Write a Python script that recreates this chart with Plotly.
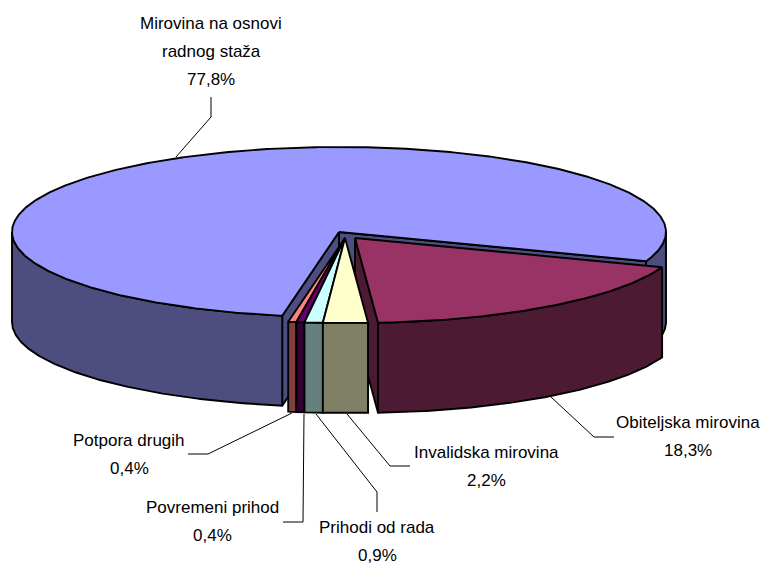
import numpy as np
import plotly.graph_objects as go

# Data
categories = ["Mirovina na osnovi radnog staža", "Obiteljska mirovina", "Invalidska mirovina",
              "Prihodi od rada", "Povremeni prihod", "Potpora drugih"]
values = [77.8, 18.3, 2.2, 0.9, 0.4, 0.4]
value_labels = ["77,8%", "18,3%", "2,2%", "0,9%", "0,4%", "0,4%"]
top_colors = ["#9999FF", "#993366", "#FFFFCC", "#CCFFFF", "#660066", "#FF8080"]
side_colors = ["#4D4D80", "#4D1A33", "#808066", "#668080", "#330033", "#804040"]

# Projection settings (pixels)
START = 190.0
RX, RY, DEPTH = 327.0, 85.0, 90.0
centers = [(339.0, 232.0), (355.0, 238.0), (345.0, 238.0), (345.0, 238.0), (345.0, 238.0), (345.0, 238.0)]
LW = 1.9

fig = go.Figure()

def poly(xs, ys, color):
    fig.add_trace(go.Scatter(x=list(xs), y=list(ys), mode="lines", fill="toself", fillcolor=color,
                             line=dict(color="#000000", width=LW), hoverinfo="skip", showlegend=False))

def rim(c, a0, a1):
    n = max(2, int(abs(a1 - a0) * 2))
    t = np.radians(np.linspace(a0, a1, n))
    return c[0] + RX * np.sin(t), c[1] - RY * np.cos(t)

def slice3d(i, a0, a1):
    c = centers[i]
    top, side = top_colors[i], side_colors[i]
    # inner cut walls facing the viewer
    for a in (a0, a1):
        normal = a - 90 if a == a0 else a + 90
        if np.cos(np.radians(normal)) < 0:
            x, y = rim(c, a, a)
            px = [c[0], x[0], x[0], c[0], c[0]]
            py = [c[1], y[0], y[0] + DEPTH, c[1] + DEPTH, c[1]]
            poly(px, py, side)
    # outer wall: only the part on the front half (90..270 clockwise from the top)
    k0 = np.floor((a0 - 90) / 360)
    for k in (k0, k0 + 1):
        lo, hi = max(a0, 90 + 360 * k), min(a1, 270 + 360 * k)
        if hi > lo:
            x, y = rim(c, lo, hi)
            poly(np.r_[x, x[::-1], x[0]], np.r_[y, y[::-1] + DEPTH, y[0]], side)
    # top face
    x, y = rim(c, a0, a1)
    poly(np.r_[c[0], x, c[0]], np.r_[c[1], y, c[1]], top)

angles = START + np.r_[0, np.cumsum(values)] * 360 / sum(values)
for i in [0, 1, 5, 4, 3, 2]:
    slice3d(i, angles[i], angles[i + 1])

# Leader lines
leaders = [
    [(176, 157), (211, 117), (211, 97)],
    [(551, 397), (594, 437), (614, 437)],
    [(347, 414), (390, 466), (410, 466)],
    [(316, 414), (377, 492), (377, 512)],
    [(304, 414), (303, 522), (283, 522)],
    [(292, 413), (208, 454), (188, 454)],
]
for pts in leaders:
    fig.add_trace(go.Scatter(x=[p[0] for p in pts], y=[p[1] for p in pts], mode="lines",
                             line=dict(color="#000000", width=1), hoverinfo="skip", showlegend=False))

# Labels, one annotation per line (line centre x, first line y)
label_lines = [
    ["Mirovina na osnovi", "radnog staža", value_labels[0]],
    [categories[1], value_labels[1]],
    [categories[2], value_labels[2]],
    [categories[3], value_labels[3]],
    [categories[4], value_labels[4]],
    [categories[5], value_labels[5]],
]
label_pos = [(211, 23), (688, 422), (486, 452), (377, 527.5), (212, 507), (129, 440)]
LINE = 28.2
for lines, (lx, ly) in zip(label_lines, label_pos):
    for j, t in enumerate(lines):
        fig.add_annotation(x=lx, y=ly + j * LINE, text=t, showarrow=False, xanchor="center", yanchor="middle",
                           font=dict(family="Liberation Sans", size=17, color="#000000"))

fig.update_xaxes(range=[0, 762], visible=False, fixedrange=True)
fig.update_yaxes(range=[566, 0], visible=False, fixedrange=True)
fig.update_layout(width=762, height=566, margin=dict(l=0, r=0, t=0, b=0),
                  paper_bgcolor="white", plot_bgcolor="white", showlegend=False)
fig.write_html("out.html", config={"displayModeBar": False},
               post_script="document.body.style.margin='0';document.documentElement.style.overflow='hidden';")
